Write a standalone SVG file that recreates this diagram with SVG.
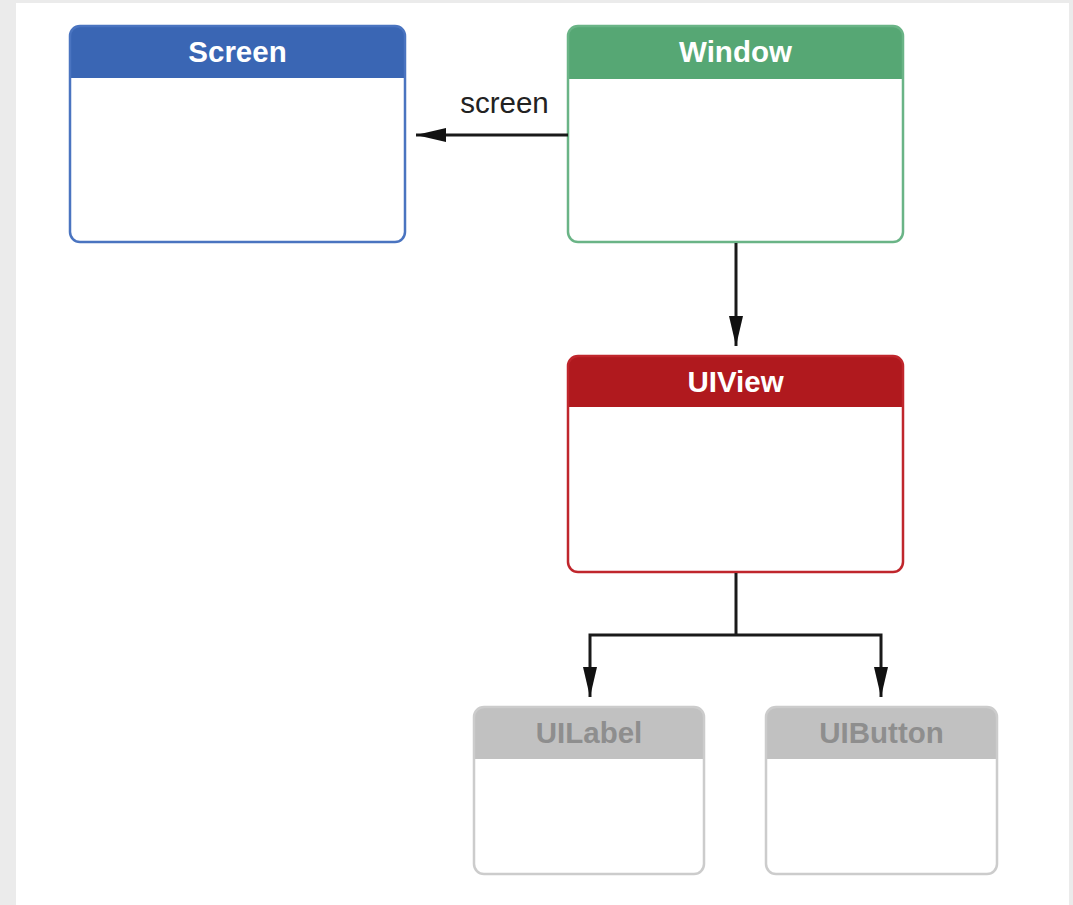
<svg xmlns="http://www.w3.org/2000/svg" width="1073" height="905" viewBox="0 0 1073 905">
<defs>
<style>
.title{font-family:"Liberation Sans",Arial,sans-serif;font-weight:bold;font-size:29.5px;text-anchor:middle;fill:#ffffff}
.label{font-family:"Liberation Sans",Arial,sans-serif;font-size:29.5px;fill:#222222}
.conn{fill:none;stroke:#1a1a1a;stroke-width:3}
</style>
<marker id="arrBig" viewBox="0 0 30 16" refX="30" refY="8" markerWidth="30" markerHeight="16" markerUnits="userSpaceOnUse" orient="auto">
<path d="M0,1 L30,8 L0,15 Z" fill="#111111"/>
</marker>
</defs>
<rect x="0" y="0" width="1073" height="905" fill="#ebebeb"/>
<rect x="16" y="3" width="1053" height="902" fill="#ffffff"/>

<g id="screen-node">
<path d="M70,78 V36 Q70,26 80,26 H395 Q405,26 405,36 V78 Z" fill="#3a66b4"/>
<rect x="70" y="26" width="335" height="216" rx="10" fill="none" stroke="#4a74c0" stroke-width="2.5"/>
<text class="title" x="237.5" y="62">Screen</text>
</g>

<g id="window-node">
<path d="M568,79 V36 Q568,26 578,26 H893 Q903,26 903,36 V79 Z" fill="#56a774"/>
<rect x="568" y="26" width="335" height="216" rx="10" fill="none" stroke="#6ab486" stroke-width="2.5"/>
<text class="title" x="735.5" y="62">Window</text>
</g>

<g id="uiview-node">
<path d="M568,407 V366 Q568,356 578,356 H893 Q903,356 903,366 V407 Z" fill="#b0191e"/>
<rect x="568" y="356" width="335" height="216" rx="10" fill="none" stroke="#c0262c" stroke-width="2.5"/>
<text class="title" x="735.5" y="392">UIView</text>
</g>

<g id="uilabel-node">
<path d="M474,759 V717 Q474,707 484,707 H694 Q704,707 704,717 V759 Z" fill="#c1c1c1"/>
<rect x="474" y="707" width="230" height="167" rx="10" fill="none" stroke="#cccccc" stroke-width="2.5"/>
<text class="title" x="589" y="743" style="fill:#8e8e8e">UILabel</text>
</g>

<g id="uibutton-node">
<path d="M766,759 V717 Q766,707 776,707 H987 Q997,707 997,717 V759 Z" fill="#c1c1c1"/>
<rect x="766" y="707" width="231" height="167" rx="10" fill="none" stroke="#cccccc" stroke-width="2.5"/>
<text class="title" x="881.5" y="743" style="fill:#8e8e8e">UIButton</text>
</g>

<g id="connectors">
<path class="conn" d="M568,135 H416" marker-end="url(#arrBig)"/>
<text class="label" x="504.5" y="113" text-anchor="middle">screen</text>
<path class="conn" d="M736,243 V346" marker-end="url(#arrBig)"/>
<path class="conn" d="M736,573 V635"/>
<path class="conn" d="M736,635 H590 V697" marker-end="url(#arrBig)"/>
<path class="conn" d="M736,635 H881 V697" marker-end="url(#arrBig)"/>
</g>
</svg>
